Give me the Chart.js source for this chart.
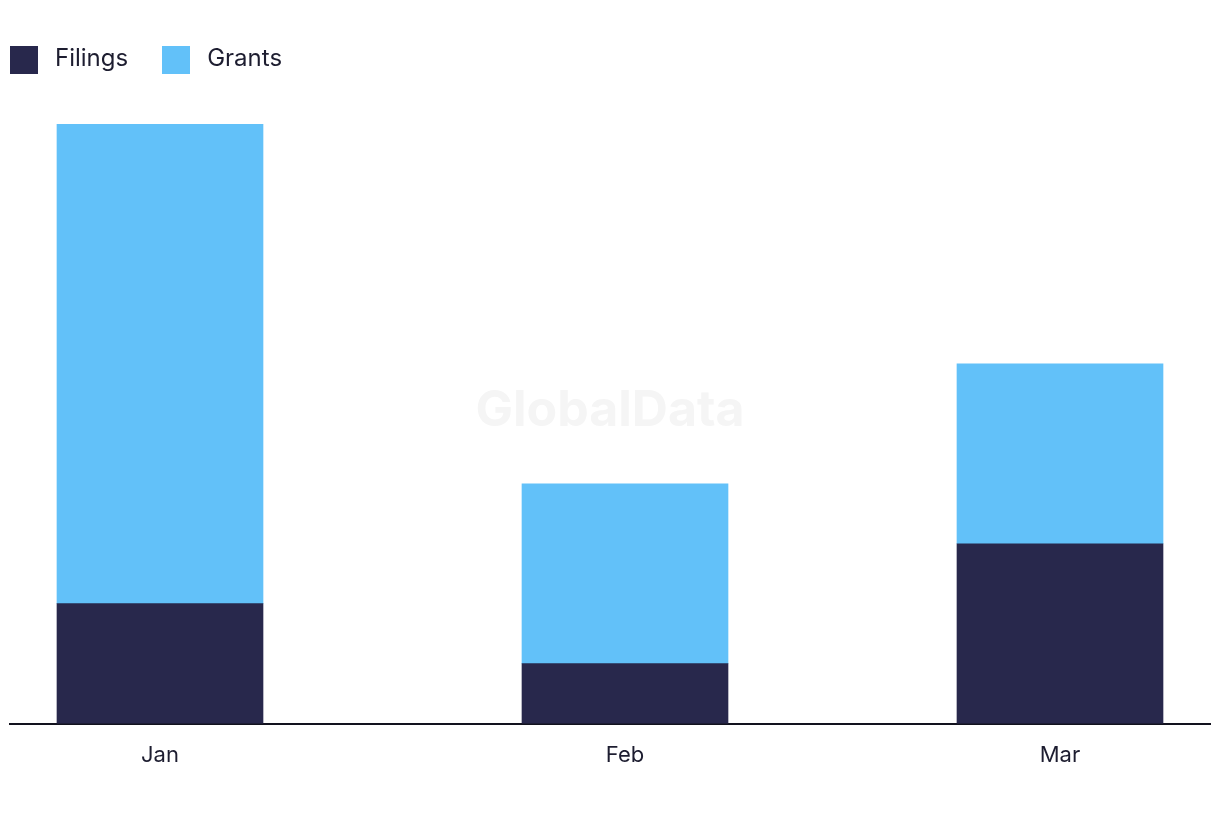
<!DOCTYPE html>
<html>
<head>
<meta charset="utf-8">
<title>Filings and Grants</title>
<script src="https://cdn.jsdelivr.net/npm/chart.js@4.4.1/dist/chart.umd.min.js"></script>
<style>
  body { margin: 0; background: #fff; font-family: Inter, "Noto Sans", sans-serif; }
  #wrap { position: relative; width: 1220px; height: 822px; }
  #legend { position: absolute; left: 10px; top: 46px; display: flex; align-items: center; color: #1d1d30; font-size: 24px; }
  #legend .item { display: flex; align-items: center; margin-right: 34px; }
  #legend .box { width: 28px; height: 28px; margin-right: 17px; }
  #legend span { line-height: 28px; position: relative; top: -2px; }
</style>
</head>
<body>
<div id="wrap">
  <div id="legend"></div>
  <canvas id="chart"></canvas>
</div>
<script>
// data
const months = ['Jan', 'Feb', 'Mar'];
const monthDates = ['2024-01-01', '2024-02-01', '2024-03-01'];
const filings = [2, 1, 3];
const grants = [8, 3, 3];

// bars sit on real dates, so Feb -> Mar is a bit shorter than Jan -> Feb
const dayNum = d => Date.parse(d) / 86400000;
const days = monthDates.map(d => dayNum(d) - dayNum(monthDates[0]));

const watermark = {
  id: 'watermark',
  beforeDatasetsDraw(chart) {
    const ctx = chart.ctx;
    ctx.save();
    ctx.font = 'bold 50px Inter, sans-serif';
    ctx.fillStyle = '#f5f5f5';
    ctx.textAlign = 'center';
    ctx.textBaseline = 'middle';
    ctx.fillText('GlobalData', chart.width / 2, 411);
    ctx.restore();
  }
};

const chart = new Chart(document.getElementById('chart'), {
  type: 'bar',
  data: {
    datasets: [
      { label: 'Filings', data: days.map((x, i) => ({ x: x, y: filings[i] })), backgroundColor: '#28284c' },
      { label: 'Grants', data: days.map((x, i) => ({ x: x, y: grants[i] })), backgroundColor: '#62c1f9' }
    ]
  },
  options: {
    responsive: true,
    maintainAspectRatio: false,
    animation: false,
    barThickness: 206,
    layout: { padding: { top: 124, left: 10, right: 10, bottom: 34 } },
    plugins: { legend: { display: false }, tooltip: { enabled: false } },
    scales: {
      x: {
        type: 'linear',
        stacked: true,
        offset: false,
        min: days[0] - 10,
        max: days[days.length - 1] + 10,
        afterBuildTicks(scale) { scale.ticks = days.map(v => ({ value: v })); },
        grid: { display: false, drawTicks: false },
        border: { display: true, color: '#12121e', width: 2 },
        ticks: {
          autoSkip: false,
          maxRotation: 0,
          padding: 19,
          color: '#1d1d30',
          font: { family: 'Inter', size: 22 },
          callback: v => months[days.indexOf(v)]
        }
      },
      y: { stacked: true, min: 0, max: 10, display: false }
    }
  },
  plugins: [watermark]
});

// html legend
document.getElementById('legend').innerHTML = chart.data.datasets.map(ds =>
  `<div class="item"><div class="box" style="background:${ds.backgroundColor}"></div><span>${ds.label}</span></div>`
).join('');
</script>
</body>
</html>
